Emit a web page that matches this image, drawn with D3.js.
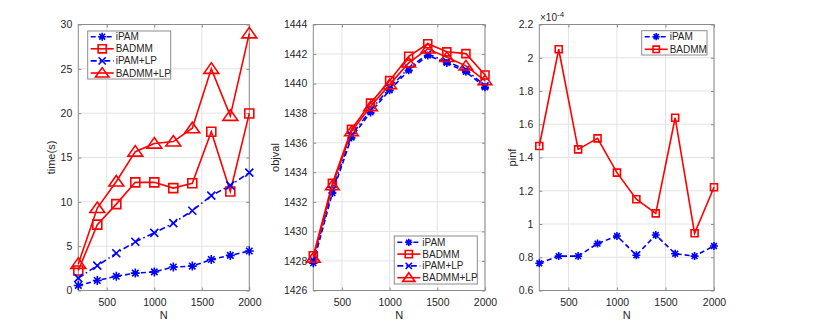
<!DOCTYPE html>
<meta charset="utf-8">
<style>
body { margin: 0; background: #fff; }
text { font-family: "Liberation Sans", Arial, sans-serif; fill: #262626; }
.grid line { stroke: #e3e3e3; stroke-width: 1; }
.frame { fill: none; stroke: #8c8c8c; stroke-width: 1; }
.tick line { stroke: #8c8c8c; }
</style>
<body>
<script src="https://d3js.org/d3.v7.min.js"></script>
<script>

var N = [200, 400, 600, 800, 1000, 1200, 1400, 1600, 1800, 2000];

// time(s)
var timeIPAM    = [0.57, 1.13, 1.6, 1.96, 2.1, 2.65, 2.75, 3.5, 3.96, 4.45];
var timeBADMM   = [2.26, 7.43, 9.74, 12.2, 12.2, 11.55, 12.1, 17.9, 11.17, 19.97];
var timeIPAMLP  = [1.4, 2.8, 4.2, 5.5, 6.5, 7.6, 9.0, 10.7, 11.85, 13.3];
var timeBADMMLP = [3.0, 9.3, 12.3, 15.66, 16.57, 16.8, 18.3, 25.0, 19.7, 29.0];

// objval
var objIPAM    = [1427.85, 1432.6, 1436.35, 1438.05, 1439.55, 1440.9, 1441.9, 1441.4, 1440.8, 1439.75];
var objBADMM   = [1428.35, 1433.25, 1436.9, 1438.68, 1440.2, 1441.85, 1442.7, 1442.15, 1442.03, 1440.58];
var objIPAMLP  = [1428.05, 1432.8, 1436.5, 1438.2, 1439.7, 1441.05, 1442.0, 1441.5, 1440.95, 1439.85];
var objBADMMLP = [1428.2, 1433.1, 1436.75, 1438.45, 1439.93, 1441.4, 1442.35, 1441.78, 1441.2, 1440.2];

// pinf
var pinfIPAM  = [0.764e-4, 0.807e-4, 0.807e-4, 0.882e-4, 0.928e-4, 0.812e-4, 0.934e-4, 0.821e-4, 0.807e-4, 0.868e-4];
var pinfBADMM = [1.469e-4, 2.051e-4, 1.449e-4, 1.515e-4, 1.309e-4, 1.149e-4, 1.064e-4, 1.639e-4, 0.944e-4, 1.221e-4];

var xTicks = [500, 1000, 1500, 2000];

var W = 817, H = 327, plotTop = 24.5, plotBottom = 290.5;

var svg = d3.select("body").append("svg")
    .attr("width", W).attr("height", H);

svg.append("rect").attr("width", W).attr("height", H).attr("fill", "#fff");

var styles = {
  "iPAM":     {color: "#0000ff", dash: "5,3", marker: "asterisk"},
  "BADMM":    {color: "#ff0000", dash: null, marker: "square"},
  "iPAM+LP":  {color: "#0000ff", dash: "6,3,1.5,3", marker: "cross"},
  "BADMM+LP": {color: "#ff0000", dash: null, marker: "triangle"}
};

function markerPath(type, s) {
  var h = s / 2;
  if (type == "square") return "M" + (-h) + "," + (-h) + "H" + h + "V" + h + "H" + (-h) + "Z";
  if (type == "triangle") {
    var w = s * 0.62;
    return "M0," + (-h) + "L" + w + "," + (h * 0.75) + "L" + (-w) + "," + (h * 0.75) + "Z";
  }
  if (type == "cross") return "M" + (-h) + "," + (-h) + "L" + h + "," + h + "M" + h + "," + (-h) + "L" + (-h) + "," + h;
  // asterisk
  var d = h * 0.72;
  return "M0," + (-h) + "V" + h + "M" + (-h) + ",0H" + h +
         "M" + (-d) + "," + (-d) + "L" + d + "," + d + "M" + d + "," + (-d) + "L" + (-d) + "," + d;
}

function panel(opt) {
  var x = d3.scaleLinear().domain([200, 2000]).range([opt.x0, opt.x1]);
  var y = d3.scaleLinear().domain(opt.ydom).range([plotBottom, plotTop]);
  var g = svg.append("g");

  // grid
  g.append("g").attr("class", "grid").selectAll("line").data(xTicks).join("line")
      .attr("x1", d => x(d)).attr("x2", d => x(d)).attr("y1", plotTop).attr("y2", plotBottom);
  g.append("g").attr("class", "grid").selectAll("line").data(opt.yticks).join("line")
      .attr("x1", opt.x0).attr("x2", opt.x1).attr("y1", d => y(d)).attr("y2", d => y(d));

  // axes with inward ticks on all sides
  var fmt = opt.fmt || (d => d);
  g.append("g").attr("transform", "translate(0," + plotBottom + ")")
      .call(d3.axisBottom(x).tickValues(xTicks).tickSizeInner(-3).tickSizeOuter(0).tickPadding(8).tickFormat(d3.format("d")))
      .call(a => a.select(".domain").remove())
      .selectAll("text").attr("font-size", 10.5);
  g.append("g").attr("transform", "translate(0," + plotTop + ")")
      .call(d3.axisTop(x).tickValues(xTicks).tickSizeInner(-3).tickSizeOuter(0).tickFormat(""))
      .call(a => a.select(".domain").remove());
  g.append("g").attr("transform", "translate(" + opt.x0 + ",0)")
      .call(d3.axisLeft(y).tickValues(opt.yticks).tickSizeInner(-3).tickSizeOuter(0).tickPadding(6).tickFormat(fmt))
      .call(a => a.select(".domain").remove())
      .selectAll("text").attr("font-size", 10.5);
  g.append("g").attr("transform", "translate(" + opt.x1 + ",0)")
      .call(d3.axisRight(y).tickValues(opt.yticks).tickSizeInner(-3).tickSizeOuter(0).tickFormat(""))
      .call(a => a.select(".domain").remove());
  g.selectAll(".tick text").attr("fill", "#262626").attr("font-family", "Liberation Sans, Arial, sans-serif");

  g.append("rect").attr("class", "frame")
      .attr("x", opt.x0).attr("y", plotTop).attr("width", opt.x1 - opt.x0).attr("height", plotBottom - plotTop);

  // labels
  g.append("text").attr("x", (opt.x0 + opt.x1) / 2).attr("y", 319)
      .attr("text-anchor", "middle").attr("font-size", 11).text("N");
  g.append("text").attr("transform", "translate(" + opt.ylabX + "," + ((plotTop + plotBottom) / 2) + ") rotate(-90)")
      .attr("text-anchor", "middle").attr("font-size", 11).text(opt.ylabel);

  // series
  var line = d3.line().x((d, i) => x(N[i])).y(d => y(d));
  opt.series.forEach(function(s) {
    var st = styles[s.name];
    g.append("path").datum(s.values)
        .attr("d", line).attr("fill", "none")
        .attr("stroke", st.color).attr("stroke-width", 1.6)
        .attr("stroke-dasharray", st.dash);
    g.append("g").selectAll("path").data(s.values).join("path")
        .attr("transform", (d, i) => "translate(" + x(N[i]) + "," + y(d) + ")")
        .attr("d", markerPath(st.marker, opt.msize[st.marker]))
        .attr("fill", "none").attr("stroke", st.color).attr("stroke-width", 1.6);
  });

  // legend
  var L = opt.legend;
  g.append("rect").attr("x", L.x).attr("y", L.y).attr("width", L.w).attr("height", L.h)
      .attr("fill", "#fff").attr("stroke", "#8c8c8c").attr("stroke-width", 1);
  opt.series.forEach(function(s, i) {
    var st = styles[s.name];
    var ly = L.y + L.first + i * L.step;
    g.append("line").attr("x1", L.x + 3).attr("x2", L.x + 26).attr("y1", ly).attr("y2", ly)
        .attr("stroke", st.color).attr("stroke-width", 1.6).attr("stroke-dasharray", st.dash);
    g.append("path").attr("transform", "translate(" + (L.x + 14.5) + "," + ly + ")")
        .attr("d", markerPath(st.marker, opt.msize[st.marker] * 0.9))
        .attr("fill", "none").attr("stroke", st.color).attr("stroke-width", 1.6);
    g.append("text").attr("x", L.x + 28).attr("y", ly).attr("dy", "0.35em")
        .attr("font-size", 10).text(s.name);
  });
  return {g: g, x: x, y: y};
}

panel({
  x0: 78.3, x1: 249.3, ydom: [0, 30], yticks: [0, 5, 10, 15, 20, 25, 30],
  ylabel: "time(s)", ylabX: 55,
  msize: {asterisk: 9, square: 9, cross: 8, triangle: 12},
  series: [
    {name: "iPAM", values: timeIPAM},
    {name: "BADMM", values: timeBADMM},
    {name: "iPAM+LP", values: timeIPAMLP},
    {name: "BADMM+LP", values: timeBADMMLP}
  ],
  legend: {x: 87.7, y: 31, w: 83, h: 48, first: 5.7, step: 12.1}
});

panel({
  x0: 313.3, x1: 485, ydom: [1426, 1444], yticks: d3.range(1426, 1445, 2),
  ylabel: "objval", ylabX: 279,
  msize: {asterisk: 8, square: 8, cross: 7, triangle: 11},
  series: [
    {name: "iPAM", values: objIPAM},
    {name: "BADMM", values: objBADMM},
    {name: "iPAM+LP", values: objIPAMLP},
    {name: "BADMM+LP", values: objBADMMLP}
  ],
  legend: {x: 394.3, y: 236, w: 83, h: 48, first: 6.3, step: 11.8}
});

var p3 = panel({
  x0: 539.3, x1: 714, ydom: [0.6e-4, 2.2e-4],
  yticks: [0.6e-4, 0.8e-4, 1.0e-4, 1.2e-4, 1.4e-4, 1.6e-4, 1.8e-4, 2.0e-4, 2.2e-4],
  fmt: d => +(d / 1e-4).toFixed(1),
  ylabel: "pinf", ylabX: 516,
  msize: {asterisk: 8, square: 7, cross: 7, triangle: 10},
  series: [
    {name: "iPAM", values: pinfIPAM},
    {name: "BADMM", values: pinfBADMM}
  ],
  legend: {x: 641.7, y: 30.7, w: 65.3, h: 24.3, first: 6, step: 12.6}
});

// exponent label
var ex = p3.g.append("text").attr("x", 540).attr("y", 21).attr("font-size", 10);
ex.append("tspan").text("\u00d710");
ex.append("tspan").attr("dy", -4).attr("font-size", 8).text("-4");

</script>
</body>
